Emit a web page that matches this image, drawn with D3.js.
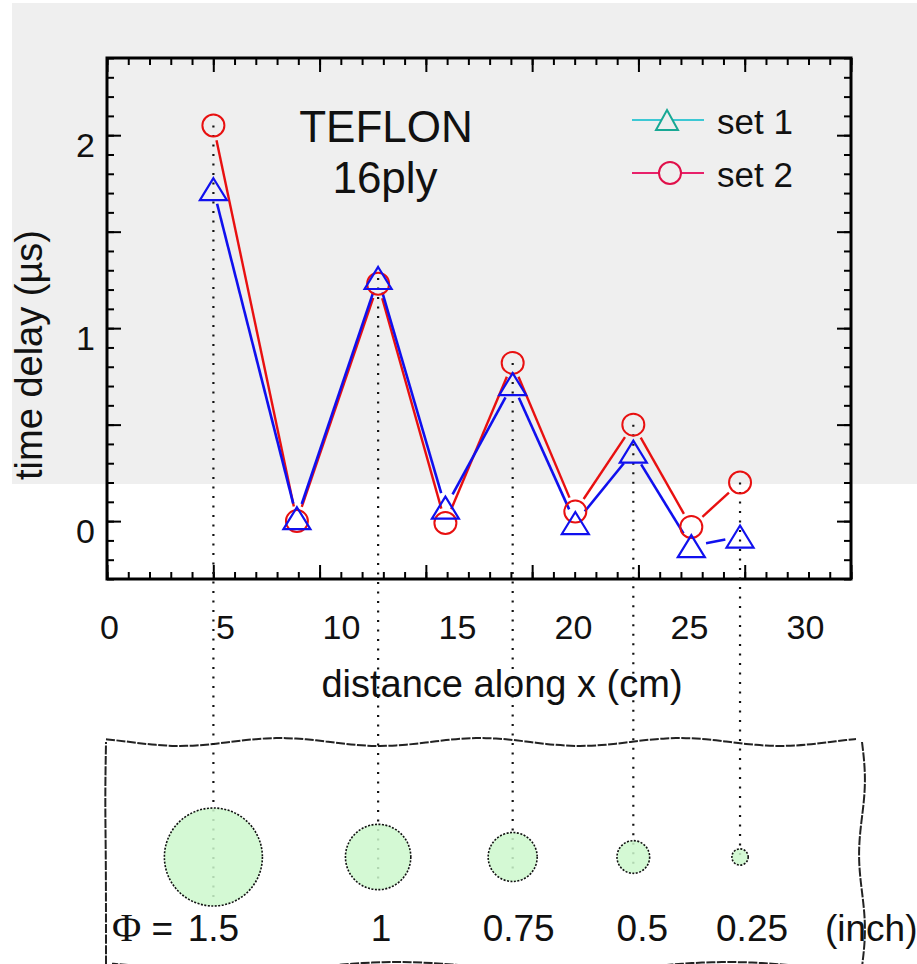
<!DOCTYPE html>
<html lang="en">
<head>
    <meta charset="UTF-8">
    <title>Teflon 16ply - time delay</title>
    <style>
        body {
            margin: 0;
            background: #fff;
            overflow: hidden;
        }
        svg {
            display: block;
            font-family: "Liberation Sans", Arial, sans-serif;
        }
        .frame-axis line {
            stroke: #000;
            stroke-width: 2;
        }
        .frame-axis path {
            display: none;
        }
    </style>
</head>
<body>
<svg width="917" height="964"></svg>

<script src="https://d3js.org/d3.v7.min.js"></script>
<script>
    // values
    const xTicks = [0, 5, 10, 15, 20, 25, 30];
    const yTicks = [0, 1, 2];
    const distance = [4.5, 8.1, 11.6, 14.5, 17.4, 20.1, 22.6, 25.1, 27.2];
    const set1 = [1.72, 0.015, 1.26, 0.07, 0.71, -0.01, 0.36, -0.13, -0.08];
    const set2 = [2.05, 0.0, 1.23, -0.01, 0.82, 0.05, 0.50, -0.03, 0.20];
    const seriesNames = ["set 1", "set 2"];
    const holeDiam = [1.5, 1, 0.75, 0.5, 0.25];
    const holeAt = [0, 2, 4, 6, 8];   // index into distance

    const svg = d3.select("svg");

    const plotL = 107, plotR = 851, plotT = 58, plotB = 579;

    // frame scale (tick marks) and label scale (tick labels + data)
    const xf = d3.scaleLinear().domain([0, 35]).range([plotL, plotR]);
    const x = d3.scaleLinear().domain([0, 30]).range([109, 805]);
    const y = d3.scaleLinear().domain([-0.3, 2.4]).range([plotB, plotT]);
    const r = d3.scaleLinear().domain([0, 1.5]).range([0, 49]);

    const blue = "#1010ee";
    const red = "#e81010";

    // grey backdrop
    svg.append("rect")
        .attr("x", 12).attr("y", 3)
        .attr("width", 905).attr("height", 481)
        .attr("fill", "#efefef");

    // ticks, all pointing inward
    function tickAxis(axisFn, scale, major, minor, bigLen, smallLen, tx, ty) {
        svg.append("g").attr("class", "frame-axis")
            .attr("transform", `translate(${tx},${ty})`)
            .call(axisFn(scale).tickValues(minor).tickSize(smallLen).tickFormat(""));
        svg.append("g").attr("class", "frame-axis")
            .attr("transform", `translate(${tx},${ty})`)
            .call(axisFn(scale).tickValues(major).tickSize(bigLen).tickFormat(""));
    }

    const xMajor = d3.range(0, 36, 5);
    const xMinor = d3.range(0, 36, 1);
    const yMajor = d3.range(0, 2.41, 0.5);
    const yMinor = d3.range(-3, 25).map(d => d / 10);

    tickAxis(d3.axisBottom, xf, xMajor, xMinor, -14, -7, 0, plotB);
    tickAxis(d3.axisTop, xf, xMajor, xMinor, -14, -7, 0, plotT);
    tickAxis(d3.axisLeft, y, yMajor, yMinor, -14, -7, plotL, 0);
    tickAxis(d3.axisRight, y, yMajor, yMinor, -14, -7, plotR, 0);

    svg.append("rect")
        .attr("x", plotL).attr("y", plotT)
        .attr("width", plotR - plotL).attr("height", plotB - plotT)
        .attr("fill", "none")
        .attr("stroke", "#000")
        .attr("stroke-width", 3);

    // tick labels
    const xLab = svg.append("g")
        .attr("transform", `translate(0,639)`)
        .call(d3.axisBottom(x).tickValues(xTicks).tickSize(0));
    xLab.select(".domain").remove();
    xLab.selectAll("text")
        .attr("y", 0).attr("dy", 0)
        .attr("font-size", 34)
        .attr("font-family", "Liberation Sans, Arial, sans-serif")
        .attr("fill", "#111");

    const yLab = svg.append("g")
        .attr("transform", `translate(95,0)`)
        .call(d3.axisLeft(y).tickValues(yTicks).tickSize(0).tickFormat(d3.format("d")));
    yLab.select(".domain").remove();
    yLab.selectAll("text")
        .attr("x", 0).attr("dy", 21)
        .attr("font-size", 34)
        .attr("font-family", "Liberation Sans, Arial, sans-serif")
        .attr("fill", "#111");

    // axis titles
    svg.append("text")
        .attr("x", 502).attr("y", 697)
        .attr("text-anchor", "middle")
        .attr("font-size", 38)
        .attr("fill", "#111")
        .text("distance along x (cm)");

    svg.append("text")
        .attr("transform", "translate(42,355) rotate(-90)")
        .attr("text-anchor", "middle")
        .attr("font-size", 38)
        .attr("fill", "#111")
        .text("time delay (µs)");

    // title inside plot
    svg.append("text")
        .attr("x", 386).attr("y", 142)
        .attr("text-anchor", "middle")
        .attr("font-size", 44)
        .attr("fill", "#111")
        .text("TEFLON");
    svg.append("text")
        .attr("x", 385).attr("y", 193)
        .attr("text-anchor", "middle")
        .attr("font-size", 44)
        .attr("fill", "#111")
        .text("16ply");

    // bottom panel with holes, wavy torn-paper edges
    const holeY = 857;
    const wavy = d3.line().curve(d3.curveBasis);
    const edges = [
        d3.range(106, 863, 10).map(px => [px, 742 + 4 * Math.sin(2 * Math.PI * (px - 330) / 200)]),
        d3.range(742, 975, 10).map(py => [862 + 3 * Math.sin(2 * Math.PI * (py - 742) / 150), py]),
        d3.range(862, 105, -10).map(px => [px, 967 + 5 * Math.sin(2 * Math.PI * (px - 150) / 330)]),
        [[106, 975], [106, 860], [105, 800], [106, 742]]
    ];

    svg.append("g")
        .selectAll("path")
        .data(edges)
        .join("path")
        .attr("d", d => wavy(d))
        .attr("fill", "none")
        .attr("stroke", "#222")
        .attr("stroke-width", 2)
        .attr("stroke-dasharray", "9,1.5");

    // dotted guides from data down to the holes
    svg.append("g")
        .selectAll("line")
        .data(holeAt)
        .join("line")
        .attr("x1", d => x(distance[d]))
        .attr("x2", d => x(distance[d]))
        .attr("y1", d => y(Math.max(set1[d], set2[d])))
        .attr("y2", (d, i) => holeY + Math.max(0, r(holeDiam[i]) - 8))
        .attr("stroke", "#111")
        .attr("stroke-width", 2.2)
        .attr("stroke-dasharray", "2,7.5");

    svg.append("g")
        .selectAll("circle")
        .data(holeAt)
        .join("circle")
        .attr("cx", d => x(distance[d]))
        .attr("cy", holeY)
        .attr("r", (d, i) => r(holeDiam[i]))
        .attr("fill", "#ccf8cc")
        .attr("fill-opacity", 0.85)
        .attr("stroke", "#111")
        .attr("stroke-width", 1.6)
        .attr("stroke-dasharray", "2,1.5");

    svg.append("g")
        .selectAll("text")
        .data(holeAt)
        .join("text")
        .attr("x", (d, i) => x(distance[d]) + i * 3)
        .attr("y", 941)
        .attr("text-anchor", "middle")
        .attr("font-size", 37)
        .attr("fill", "#111")
        .text((d, i) => holeDiam[i]);

    svg.append("text")
        .attr("x", 112).attr("y", 941)
        .attr("font-size", 37)
        .attr("fill", "#111")
        .html('<tspan font-family="Liberation Serif, Times New Roman, serif" font-size="40">Φ</tspan> =');

    svg.append("text")
        .attr("x", 825).attr("y", 941)
        .attr("font-size", 37)
        .attr("fill", "#111")
        .text("(inch)");

    // series lines, broken around markers
    const gap = 15;
    function segments(vals) {
        const out = [];
        for (let i = 0; i < vals.length - 1; i++) {
            const x1 = x(distance[i]), y1 = y(vals[i]);
            const x2 = x(distance[i + 1]), y2 = y(vals[i + 1]);
            const len = Math.hypot(x2 - x1, y2 - y1);
            const ux = (x2 - x1) / len, uy = (y2 - y1) / len;
            out.push([x1 + ux * gap, y1 + uy * gap, x2 - ux * gap, y2 - uy * gap]);
        }
        return out;
    }

    svg.append("g")
        .selectAll("line")
        .data(segments(set2))
        .join("line")
        .attr("x1", d => d[0]).attr("y1", d => d[1])
        .attr("x2", d => d[2]).attr("y2", d => d[3])
        .attr("stroke", red)
        .attr("stroke-width", 2.4);

    svg.append("g")
        .selectAll("line")
        .data(segments(set1))
        .join("line")
        .attr("x1", d => d[0]).attr("y1", d => d[1])
        .attr("x2", d => d[2]).attr("y2", d => d[3])
        .attr("stroke", blue)
        .attr("stroke-width", 2.6);

    // markers
    const triangle = "M0,-11L13.5,11L-13.5,11Z";

    svg.append("g")
        .selectAll("circle")
        .data(set2)
        .join("circle")
        .attr("cx", (d, i) => x(distance[i]))
        .attr("cy", d => y(d))
        .attr("r", 11)
        .attr("fill", "none")
        .attr("stroke", red)
        .attr("stroke-width", 2);

    svg.append("g")
        .selectAll("path")
        .data(set1)
        .join("path")
        .attr("transform", (d, i) => `translate(${x(distance[i])},${y(d)})`)
        .attr("d", triangle)
        .attr("fill", "none")
        .attr("stroke", blue)
        .attr("stroke-width", 2.2);

    // legend
    const legend = svg.append("g");
    const legendColors = [["#3cc8d4", "#18a894"], ["#e8206a", "#e0104a"]];
    seriesNames.forEach((name, i) => {
        const ly = 120 + i * 53;
        const row = legend.append("g").attr("transform", `translate(0,${ly})`);
        row.append("line")
            .attr("x1", 632).attr("x2", 704)
            .attr("stroke", legendColors[i][0])
            .attr("stroke-width", 2);
        if (i === 0) {
            row.append("path")
                .attr("transform", "translate(667,0)")
                .attr("d", "M0,-10L11,10L-11,10Z")
                .attr("fill", "#efefef")
                .attr("stroke", legendColors[i][1])
                .attr("stroke-width", 2);
        } else {
            row.append("circle")
                .attr("cx", 670).attr("r", 11)
                .attr("fill", "#efefef")
                .attr("stroke", legendColors[i][1])
                .attr("stroke-width", 2);
        }
        row.append("text")
            .attr("x", 717).attr("y", 14)
            .attr("font-size", 35)
            .attr("fill", "#111")
            .text(name);
    });
</script>
</body>
</html>
